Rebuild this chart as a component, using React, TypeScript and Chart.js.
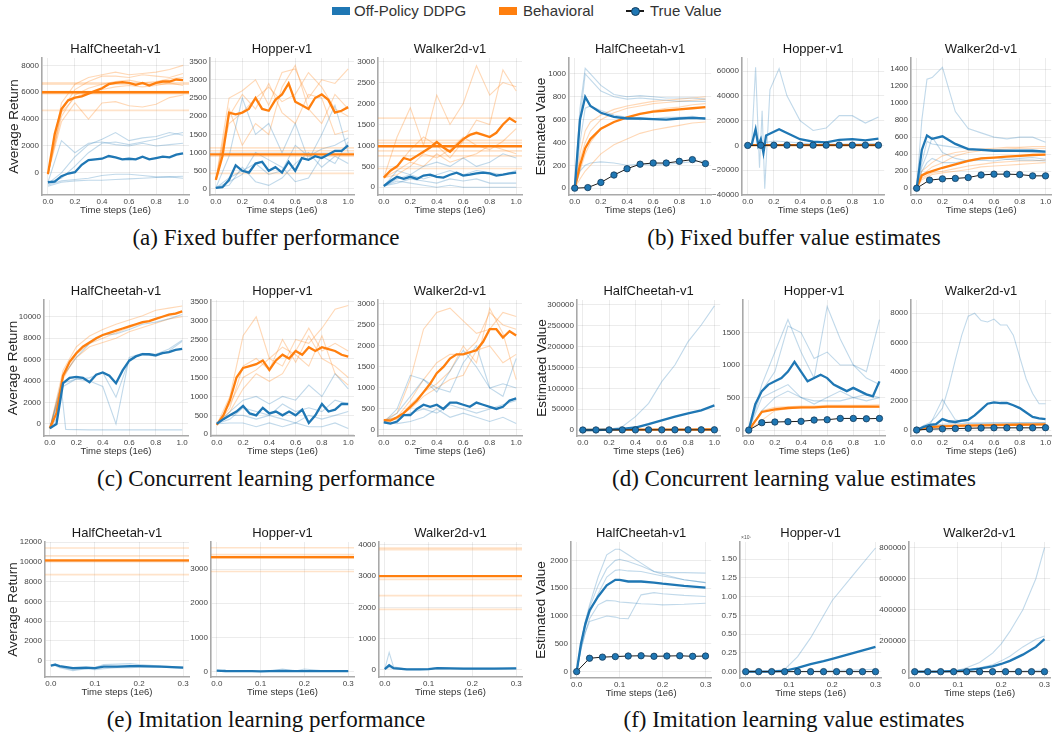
import React, { useEffect, useRef } from "react";
import { Chart, registerables } from "chart.js";

Chart.register(...registerables);

// ---------------- data ----------------
const ENVS = ["HalfCheetah-v1", "Hopper-v1", "Walker2d-v1"];
const X_TICKS_LONG = [0, 0.2, 0.4, 0.6, 0.8, 1.0];
const X_TICKS_SHORT = [0, 0.1, 0.2, 0.3];

const X21 = [0, 0.05, 0.1, 0.15, 0.2, 0.25, 0.3, 0.35, 0.4, 0.45, 0.5, 0.55, 0.6, 0.65, 0.7, 0.75, 0.8, 0.85, 0.9, 0.95, 1.0];
const X11 = [0, 0.1, 0.2, 0.3, 0.4, 0.5, 0.6, 0.7, 0.8, 0.9, 1.0];
const XV = [0, 0.04, 0.08, 0.12, 0.2, 0.3, 0.4, 0.5, 0.6, 0.7, 0.8, 0.9, 1.0];
const XB2M = [0, 0.03, 0.06, 0.08, 0.1, 0.12, 0.14, 0.2, 0.24, 0.3, 0.4, 0.5, 0.6, 0.7, 0.8, 0.9, 1.0];
const XB2R = [0, 0.03, 0.06, 0.09, 0.11, 0.13, 0.17, 0.24, 0.3, 0.4, 0.5, 0.6, 0.7, 0.8, 0.9, 1.0];
const XC1R = [0, 0.05, 0.09, 0.12, 0.3, 0.5, 0.7, 1.0];
const XE = [0, 0.01, 0.02, 0.05, 0.08, 0.1, 0.12, 0.15, 0.18, 0.2, 0.25, 0.3];
const XF = [0, 0.03, 0.06, 0.09, 0.12, 0.15, 0.18, 0.21, 0.24, 0.27, 0.3];
const XF1 = [0, 0.01, 0.02, 0.03, 0.05, 0.07, 0.09, 0.1, 0.12, 0.15, 0.18, 0.2, 0.25, 0.3];
const XF2 = [0, 0.05, 0.09, 0.12, 0.15, 0.18, 0.2, 0.25, 0.3];
const XF3 = [0, 0.05, 0.1, 0.12, 0.15, 0.18, 0.2, 0.22, 0.25, 0.28, 0.3];
const HX_LONG = [-0.1, 1.1];
const HX_SHORT = [-0.03, 0.33];

// (a) fixed buffer performance
const aHC_ddpg = [-700, -650, -250, -50, 50, 600, 950, 1000, 1050, 1250, 1150, 1000, 1050, 1000, 1200, 1000, 1100, 1200, 1150, 1350, 1450];
const aHC_ddpgRuns = [
  [-700, 2400, 1500, 2200, 2300, 2100, 2000, 2200, 2000, 2100, 2200],
  [-800, 0, 1200, 2100, 2500, 3000, 2400, 2600, 2700, 3000, 2800],
  [-900, -600, -500, -400, -200, -100, -100, -200, -300, -300, -400],
  [-1000, -700, -600, -550, -550, -500, -450, -400, -350, -300, -250],
  [-700, -400, 500, 1500, 2200, 2300, 2100, 2300, 2500, 2800, 3000],
];
const aHC_beh = [-100, 2900, 4750, 5400, 5600, 5700, 5900, 6100, 6300, 6600, 6700, 6750, 6700, 6550, 6700, 6500, 6700, 6800, 6800, 6950, 6900];
const aHC_behRuns = [
  [-100, 5200, 6600, 7100, 7300, 7500, 7300, 7400, 7500, 7700, 8000],
  [-100, 4600, 6200, 6800, 7200, 7200, 7100, 7300, 7200, 7100, 7400],
  [-100, 3800, 5200, 4000, 5200, 5300, 5000, 4900, 5100, 5600, 5800],
  [-100, 4200, 5800, 6300, 6600, 6800, 6900, 6700, 6800, 7000, 7100],
  [-100, 4500, 5600, 6000, 6200, 6400, 6500, 6400, 6500, 6700, 6500],
];
const aHC_behLevel = [6000];
const aHC_behLevels = [6700, 6600, 6050, 5900, 4650];

const aHop_ddpg = [30, 50, 250, 650, 500, 450, 700, 750, 500, 600, 450, 750, 500, 850, 800, 900, 850, 950, 1050, 1050, 1200];
const aHop_ddpgRuns = [
  [30, 900, 2500, 1500, 1800, 1000, 1800, 800, 1500, 2300, 1000],
  [30, 200, 400, 1000, 800, 600, 200, 300, 900, 700, 1300],
  [30, 100, 600, 200, 100, 300, 700, 1000, 600, 900, 700],
  [30, 300, 500, 700, 400, 500, 1200, 900, 1100, 1200, 1400],
];
const aHop_beh = [250, 900, 2100, 2050, 2100, 2200, 2500, 2200, 2150, 2450, 2600, 2900, 2400, 2300, 2200, 2500, 2600, 2450, 2100, 2150, 2250];
const aHop_behRuns = [
  [250, 2500, 2700, 3000, 2300, 3200, 3300, 2500, 3000, 2900, 3300],
  [250, 1800, 2100, 2500, 2800, 2400, 2600, 3200, 2800, 2200, 2000],
  [250, 2200, 1200, 1800, 1500, 2800, 3400, 2200, 1800, 2600, 2200],
  [250, 2000, 2600, 2200, 2900, 2100, 1800, 2600, 2500, 1500, 1600],
];
const aHop_behLevel = [950];
const aHop_behLevels = [1130, 1050, 900, 430];

const aWalk_ddpg = [30, 150, 250, 200, 250, 200, 280, 300, 250, 230, 300, 350, 280, 300, 330, 350, 330, 280, 300, 330, 350];
const aWalk_ddpgRuns = [
  [30, 400, 300, 500, 600, 500, 700, 500, 600, 800, 700],
  [30, 200, 300, 200, 300, 400, 300, 400, 350, 300, 400],
  [30, 100, 200, 150, 100, 200, 150, 200, 100, 100, 100],
  [30, 150, 100, 50, 0, 50, 0, 0, 0, 0, 0],
];
const aWalk_beh = [230, 400, 500, 700, 650, 750, 850, 950, 1080, 950, 850, 1000, 1150, 1250, 1300, 1250, 1200, 1300, 1500, 1650, 1550];
const aWalk_behRuns = [
  [230, 1200, 1900, 1000, 2200, 1500, 2000, 2900, 2200, 2500, 2400],
  [230, 500, 900, 1200, 1000, 700, 1100, 1600, 1500, 2800, 2300],
  [230, 300, 500, 800, 700, 900, 1200, 1000, 900, 1100, 1400],
  [230, 400, 600, 500, 800, 600, 700, 800, 1000, 900, 800],
];
const aWalk_behLevel = [980];
const aWalk_behLevels = [1650, 1120, 1060, 870, 750, 450];

// (b) fixed buffer value estimates
const bHC_ddpg = [0, 600, 800, 720, 660, 625, 610, 610, 605, 600, 610, 615, 610];
const bHC_ddpgRuns = [
  [0, 700, 1050, 1000, 900, 820, 800, 810, 800, 790, 790, 790, 780],
  [0, 600, 1000, 950, 850, 800, 780, 790, 780, 770, 760, 760, 760],
  [0, 400, 700, 720, 680, 640, 620, 600, 610, 620, 620, 630, 610],
  [0, 150, 200, 220, 230, 220, 200, 210, 200, 210, 220, 230, 240],
];
const bHC_beh = [0, 200, 350, 430, 520, 580, 620, 650, 670, 680, 690, 700, 710];
const bHC_behRuns = [
  [0, 300, 500, 580, 640, 690, 720, 740, 760, 770, 780, 790, 800],
  [0, 250, 400, 500, 600, 660, 700, 720, 740, 750, 760, 770, 780],
  [0, 150, 300, 400, 520, 580, 620, 650, 680, 700, 710, 730, 740],
  [0, 80, 150, 200, 300, 380, 430, 480, 510, 530, 550, 570, 580],
];
const bHC_true = [0, 5, 50, 115, 170, 210, 220, 220, 235, 250, 215];

const bHop_ddpg = [0, 500, 13000, 0, 5000, -6000, 8000, 11000, 13000, 10000, 5000, 3000, 2500, 4500, 5000, 4000, 5500];
const bHop_ddpgSpiky = [0, 1000, 63000, -18000, 28000, -35000, 45000, 62000, 40000, 20000, 12000, 14000, 24000, 24000, 18000, 23000];
const bHop_ddpgRuns = [
  [0, 0, 500, 2000, 3500, 3000, 2000, 1000, 800, 1000, 1000, 1500, 1500],
  [0, 0, 0, -500, 500, 300, 500, 500, 400, 500, 500, 500, 500],
];
const bHop_beh = [0, 200, 300, 300, 300, 300, 300, 300, 300, 300, 300, 300, 300];
const bHop_true = [0, 100, 150, 200, 200, 200, 200, 200, 200, 200, 200];

const bWalk_ddpg = [0, 450, 620, 580, 610, 520, 460, 450, 440, 440, 440, 440, 430];
const bWalk_ddpgRuns = [
  [0, 800, 1280, 1300, 1420, 900, 700, 650, 600, 580, 600, 600, 540],
  [0, 300, 550, 520, 500, 480, 470, 460, 450, 440, 430, 420, 420],
  [0, 250, 400, 600, 420, 350, 320, 330, 320, 340, 330, 330, 320],
  [0, 200, 300, 350, 300, 300, 330, 350, 360, 340, 350, 360, 340],
];
const bWalk_beh = [0, 150, 180, 200, 240, 280, 320, 350, 360, 370, 380, 390, 395];
const bWalk_behRuns = [
  [0, 200, 250, 300, 380, 420, 440, 460, 470, 480, 480, 490, 490],
  [0, 150, 200, 250, 300, 380, 420, 440, 450, 460, 470, 470, 470],
  [0, 120, 150, 180, 200, 230, 260, 280, 300, 310, 320, 320, 330],
  [0, 100, 130, 160, 180, 200, 220, 250, 260, 270, 280, 290, 300],
];
const bWalk_true = [0, 95, 110, 115, 125, 155, 165, 165, 160, 145, 145];

// (c) concurrent learning performance
const cHC_ddpg = [-400, 0, 3800, 4300, 4400, 4300, 3900, 4600, 4800, 4500, 3800, 5000, 5900, 6300, 6500, 6500, 6400, 6600, 6700, 6900, 7000];
const cHC_ddpgRuns = [
  [-400, 4500, 6200, 7500, 8300, 8400, 8800, 9300, 9500, 9800, 10200],
  [-400, 3500, 4200, 4000, 3500, 0, 6200, 6600, 6500, 7000, 7800],
  [-400, 3800, 4200, 4300, 4800, 2500, 6000, 6500, 6300, 6800, 7700],
];
const cHC_ddpgCollapse = [-400, 500, 3000, -500, -550, -550, -550, -550];
const cHC_beh = [-400, 1000, 4500, 5800, 6600, 7200, 7600, 8000, 8300, 8500, 8700, 8900, 9100, 9300, 9500, 9600, 9800, 10000, 10200, 10300, 10500];
const cHC_behRuns = [
  [-400, 5000, 7200, 8200, 8800, 9300, 9700, 10100, 10600, 10800, 11000],
  [-400, 4200, 6500, 7500, 8000, 8500, 9000, 9400, 9800, 10200, 10500],
  [-400, 4400, 6200, 7200, 7600, 8000, 8600, 9000, 9400, 9800, 10000],
];

const cHop_ddpg = [280, 400, 500, 600, 750, 550, 500, 700, 550, 600, 500, 600, 500, 650, 300, 500, 800, 600, 650, 800, 800];
const cHop_ddpgRuns = [
  [280, 600, 900, 1000, 800, 1000, 900, 1300, 1000, 1600, 1200],
  [280, 400, 700, 600, 500, 800, 600, 700, 600, 900, 800],
  [280, 500, 500, 400, 500, 400, 300, 500, 400, 500, 600],
  [280, 300, 300, 200, 300, 200, 300, 200, 200, 300, 150],
];
const cHop_beh = [250, 500, 900, 1500, 1750, 1800, 1850, 1950, 1700, 1950, 2100, 2000, 2200, 2100, 2300, 2200, 2300, 2250, 2200, 2100, 2050];
const cHop_behRuns = [
  [250, 1000, 2600, 3100, 2000, 1800, 2500, 2400, 2800, 3300, 3400],
  [250, 700, 1800, 2000, 1700, 2500, 1900, 2600, 2000, 1800, 1500],
  [250, 800, 1500, 1700, 2000, 2300, 2100, 1800, 2600, 1600, 1300],
  [250, 600, 1200, 1600, 1400, 1600, 2200, 2800, 2200, 2400, 2200],
];

const cWalk_ddpg = [180, 150, 200, 350, 350, 500, 600, 550, 600, 500, 650, 650, 600, 550, 650, 600, 550, 500, 550, 700, 750];
const cWalk_ddpgRuns = [
  [180, 500, 1300, 1200, 900, 1400, 1900, 1500, 1000, 800, 1700],
  [180, 400, 800, 1200, 1000, 900, 1600, 2000, 1000, 1100, 1000],
  [180, 300, 400, 500, 400, 600, 500, 400, 500, 600, 700],
  [180, 150, 200, 300, 500, 300, 400, 300, 200, 300, 150],
];
const cWalk_beh = [230, 220, 300, 400, 550, 700, 900, 1100, 1350, 1500, 1700, 1800, 1800, 1850, 1900, 2100, 2400, 2400, 2200, 2350, 2250];
const cWalk_behRuns = [
  [230, 400, 1200, 2400, 2800, 2900, 2600, 2300, 2400, 2800, 2700],
  [230, 300, 700, 1200, 1600, 1800, 1800, 2100, 2800, 2500, 2400],
  [230, 250, 600, 900, 1100, 1400, 2000, 1600, 2900, 2300, 1200],
  [230, 300, 500, 800, 1000, 1200, 1300, 1900, 2000, 1600, 1800],
];

// (d) concurrent learning value estimates
const dHC_ddpg = [0, 0, 1000, 2500, 6000, 14000, 23000, 32000, 40000, 47000, 59000];
const dHC_ddpgRuns = [
  [0, 0, 1500, 8000, 32000, 64000, 116000, 156000, 212000, 252000, 298000],
  [0, 0, 0, 0, 1000, 1000, 2000, 2000, 3000, 3000, 3000],
];
const dHC_beh = [0, 500, 800, 900, 1000, 1000, 1100, 1100, 1100, 1200, 1200];
const dHC_true = [0, 150, 250, 300, 350, 400, 400, 450, 450, 450, 450];

const dHop_ddpg = [0, 400, 600, 700, 750, 800, 900, 1050, 900, 750, 800, 850, 800, 700, 650, 600, 650, 600, 550, 520, 750];
const dHop_ddpgRuns = [
  [0, 700, 1200, 1700, 1200, 800, 1900, 1400, 1000, 900, 1700],
  [0, 600, 900, 1600, 1500, 1100, 1200, 1000, 1000, 800, 700],
  [0, 500, 600, 700, 500, 450, 450, 450, 500, 550, 500],
  [0, 300, 500, 600, 500, 400, 500, 600, 500, 450, 500],
];
const dHop_beh = [0, 280, 320, 340, 350, 350, 360, 360, 360, 360, 360];
const dHop_behRuns = [
  [0, 300, 350, 360, 370, 370, 380, 380, 380, 380, 390],
  [0, 150, 300, 330, 340, 350, 350, 350, 350, 350, 350],
];
const dHop_true = [0, 115, 125, 130, 135, 155, 160, 180, 180, 175, 180];

const dWalk_ddpg = [0, 200, 350, 400, 750, 600, 550, 650, 700, 1000, 1400, 1800, 1900, 1850, 1850, 1700, 1500, 1200, 900, 800, 750];
const dWalk_ddpgBig = [0, 300, 500, 900, 1500, 3000, 4800, 6500, 7800, 8000, 7500, 7400, 7600, 7200, 7200, 6500, 5000, 3500, 2500, 1800, 1800];
const dWalk_ddpgRuns = [
  [0, 300, 2100, 700, 500, 500, 500, 500, 500, 500, 500],
  [0, 300, 400, 450, 450, 450, 480, 480, 490, 500, 500],
];
const dWalk_beh = [0, 200, 250, 280, 300, 320, 340, 350, 360, 370, 380];
const dWalk_behRuns = [[0, 250, 320, 350, 380, 400, 420, 430, 440, 450, 460]];
const dWalk_true = [0, 60, 80, 100, 120, 140, 150, 150, 150, 150, 160];

// (e) imitation learning performance
const eHC_ddpg = [-500, -400, -550, -750, -700, -750, -600, -600, -550, -550, -600, -700];
const eHC_ddpgRuns = [
  [-500, -300, -600, -900, -800, -700, -400, -350, -300, -400, -550, -650],
  [-500, -500, -700, -1000, -800, -900, -800, -700, -700, -650, -650, -750],
];
const eHC_behLevel = [10150];
const eHC_behLevels = [11400, 10600, 10000, 8700];

const eHop_ddpg = [30, 25, 20, 15, 15, 10, 15, 25, 15, 15, 15, 15];
const eHop_ddpgRuns = [
  [30, 40, 20, 10, 10, 10, 20, 80, 20, 80, 20, 10],
  [30, 20, 10, 5, 10, 5, 10, 20, 10, 30, 15, 20],
];
const eHop_behLevel = [3350];
const eHop_behLevels = [3620, 3420, 3320, 2930];

const eWalk_ddpg = [30, 150, 60, 20, 20, 25, 60, 50, 40, 40, 40, 50];
const eWalk_ddpgRuns = [
  [30, 560, 100, 30, 20, 30, 80, 60, 50, 50, 50, 60],
  [30, 80, 40, 20, 30, 20, 50, 40, 30, 30, 40, 50],
];
const eWalk_behLevel = [3000];
const eWalk_behLevels = [3900, 3850, 2900, 2380, 1940];

// (f) imitation learning value estimates
const fHC_ddpg = [0, 500, 850, 1100, 1350, 1550, 1650, 1650, 1620, 1620, 1600, 1580, 1540, 1510];
const fHC_ddpgRuns = [
  [0, 500, 900, 1200, 1700, 2100, 2200, 2200, 2100, 1950, 1800, 1780, 1780, 1770],
  [0, 500, 900, 1150, 1550, 1850, 2000, 2020, 1980, 1900, 1800, 1750, 1650, 1600],
  [0, 450, 800, 1050, 1400, 1700, 1820, 1830, 1810, 1800, 1750, 1720, 1650, 1600],
  [0, 400, 700, 950, 1200, 1280, 1270, 1250, 1240, 1220, 1210, 1200, 1210, 1230],
  [0, 400, 700, 900, 950, 1000, 980, 960, 950, 1380, 1420, 1400, 1370, 1350],
];
const fHC_true = [0, 240, 260, 270, 280, 285, 275, 280, 285, 275, 280];

const fHop_ddpg = [0, 0, 100000, 500000, 1000000, 1400000, 1700000, 2500000, 3300000];
const fHop_ddpgRuns = [
  [0, 0, 300000, 2000000, 4500000, 7500000, 9500000, 13000000, 16500000],
  [0, 0, 0, 0, 50000, 100000, 150000, 200000, 300000],
];
const fHop_true = [0, 200, 300, 300, 300, 300, 300, 300, 300, 300, 300];

const fWalk_ddpg = [0, 0, 5000, 10000, 20000, 35000, 50000, 70000, 110000, 160000, 210000];
const fWalk_ddpgRuns = [
  [0, 0, 10000, 25000, 60000, 120000, 180000, 260000, 400000, 600000, 800000],
  [0, 0, 5000, 10000, 25000, 45000, 70000, 100000, 160000, 210000, 230000],
  [0, 0, 0, 0, 0, 0, 1000, 2000, 5000, 8000, 10000],
];
const fWalk_true = [0, 200, 300, 300, 300, 300, 300, 300, 300, 300, 300];

// y-axis ticks
const Y_A1 = [0, 2000, 4000, 6000, 8000];
const Y_A2 = [0, 500, 1000, 1500, 2000, 2500, 3000, 3500];
const Y_A3 = [0, 500, 1000, 1500, 2000, 2500, 3000];
const Y_B1 = [0, 200, 400, 600, 800, 1000];
const Y_B2 = [-40000, -20000, 0, 20000, 40000, 60000];
const Y_B3 = [0, 200, 400, 600, 800, 1000, 1200, 1400];
const Y_C1 = [0, 2000, 4000, 6000, 8000, 10000];
const Y_C2 = [0, 500, 1000, 1500, 2000, 2500, 3000, 3500];
const Y_C3 = [0, 500, 1000, 1500, 2000, 2500, 3000];
const Y_D1 = [0, 50000, 100000, 150000, 200000, 250000, 300000];
const Y_D2 = [0, 500, 1000, 1500];
const Y_D3 = [0, 2000, 4000, 6000, 8000];
const Y_E1 = [0, 2000, 4000, 6000, 8000, 10000, 12000];
const Y_E2 = [0, 1000, 2000, 3000];
const Y_E3 = [0, 1000, 2000, 3000, 4000];
const Y_F1 = [0, 500, 1000, 1500, 2000];
const Y_F2 = [0, 2500000, 5000000, 7500000, 10000000, 12500000, 15000000];
const Y_F3 = [0, 200000, 400000, 600000, 800000];

// ---------------- builders ----------------
type Role = "ddpgRun" | "behRun" | "behLevel" | "ddpgMean" | "behMean" | "trueVal";
type Series = { role: Role; x: number[]; y: number[] };
const runs = (role: Role, x: number[], ys: number[][]): Series[] => ys.map((y) => ({ role, x, y }));
const one = (role: Role, x: number[], y: number[]): Series => ({ role, x, y });
const levels = (role: Role, x: number[], vals: number[]): Series[] => vals.map((v) => ({ role, x, y: x.map(() => v) }));

type Spec = {
  title: string;
  yLabel?: string;
  span: number;
  yMin: number;
  yMax: number;
  yTicks: number[];
  sci?: boolean;
  series: Series[];
};

const PERF = "Average Return";
const VAL = "Estimated Value";

const SPECS: Spec[] = [
  { title: ENVS[0], yLabel: PERF, span: 1, yMin: -1650, yMax: 8550, yTicks: Y_A1, series: [
    ...runs("ddpgRun", X11, aHC_ddpgRuns), ...runs("behRun", X11, aHC_behRuns), ...levels("behLevel", HX_LONG, aHC_behLevels),
    ...levels("behMean", HX_LONG, aHC_behLevel), one("behMean", X21, aHC_beh), one("ddpgMean", X21, aHC_ddpg)] },
  { title: ENVS[1], span: 1, yMin: -165, yMax: 3600, yTicks: Y_A2, series: [
    ...runs("ddpgRun", X11, aHop_ddpgRuns), ...runs("behRun", X11, aHop_behRuns), ...levels("behLevel", HX_LONG, aHop_behLevels),
    ...levels("behMean", HX_LONG, aHop_behLevel), one("behMean", X21, aHop_beh), one("ddpgMean", X21, aHop_ddpg)] },
  { title: ENVS[2], span: 1, yMin: -184, yMax: 3086, yTicks: Y_A3, series: [
    ...runs("ddpgRun", X11, aWalk_ddpgRuns), ...runs("behRun", X11, aWalk_behRuns), ...levels("behLevel", HX_LONG, aWalk_behLevels),
    ...levels("behMean", HX_LONG, aWalk_behLevel), one("behMean", X21, aWalk_beh), one("ddpgMean", X21, aWalk_ddpg)] },
  { title: ENVS[0], yLabel: VAL, span: 1, yMin: -60, yMax: 1140, yTicks: Y_B1, series: [
    ...runs("ddpgRun", XV, bHC_ddpgRuns), ...runs("behRun", XV, bHC_behRuns), one("behMean", XV, bHC_beh),
    one("ddpgMean", XV, bHC_ddpg), one("trueVal", X11, bHC_true)] },
  { title: ENVS[1], span: 1, yMin: -40000, yMax: 70500, yTicks: Y_B2, series: [
    one("ddpgRun", XB2R, bHop_ddpgSpiky), ...runs("ddpgRun", XV, bHop_ddpgRuns), one("behMean", XV, bHop_beh),
    one("ddpgMean", XB2M, bHop_ddpg), one("trueVal", X11, bHop_true)] },
  { title: ENVS[2], span: 1, yMin: -80, yMax: 1530, yTicks: Y_B3, series: [
    ...runs("ddpgRun", XV, bWalk_ddpgRuns), ...runs("behRun", XV, bWalk_behRuns), one("behMean", XV, bWalk_beh),
    one("ddpgMean", XV, bWalk_ddpg), one("trueVal", X11, bWalk_true)] },
  { title: ENVS[0], yLabel: PERF, span: 1, yMin: -1120, yMax: 11560, yTicks: Y_C1, series: [
    ...runs("ddpgRun", X11, cHC_ddpgRuns), one("ddpgRun", XC1R, cHC_ddpgCollapse), ...runs("behRun", X11, cHC_behRuns),
    one("behMean", X21, cHC_beh), one("ddpgMean", X21, cHC_ddpg)] },
  { title: ENVS[1], span: 1, yMin: -45, yMax: 3545, yTicks: Y_C2, series: [
    ...runs("ddpgRun", X11, cHop_ddpgRuns), ...runs("behRun", X11, cHop_behRuns),
    one("behMean", X21, cHop_beh), one("ddpgMean", X21, cHop_ddpg)] },
  { title: ENVS[2], span: 1, yMin: -145, yMax: 3095, yTicks: Y_C3, series: [
    ...runs("ddpgRun", X11, cWalk_ddpgRuns), ...runs("behRun", X11, cWalk_behRuns),
    one("behMean", X21, cWalk_beh), one("ddpgMean", X21, cWalk_ddpg)] },
  { title: ENVS[0], yLabel: VAL, span: 1, yMin: -14400, yMax: 312000, yTicks: Y_D1, series: [
    ...runs("ddpgRun", X11, dHC_ddpgRuns), one("behMean", X11, dHC_beh), one("ddpgMean", X11, dHC_ddpg), one("trueVal", X11, dHC_true)] },
  { title: ENVS[1], span: 1, yMin: -90, yMax: 2000, yTicks: Y_D2, series: [
    ...runs("ddpgRun", X11, dHop_ddpgRuns), ...runs("behRun", X11, dHop_behRuns), one("behMean", X11, dHop_beh),
    one("ddpgMean", X21, dHop_ddpg), one("trueVal", X11, dHop_true)] },
  { title: ENVS[2], span: 1, yMin: -410, yMax: 8910, yTicks: Y_D3, series: [
    one("ddpgRun", X21, dWalk_ddpgBig), ...runs("ddpgRun", X11, dWalk_ddpgRuns), ...runs("behRun", X11, dWalk_behRuns),
    one("behMean", X11, dWalk_beh), one("ddpgMean", X21, dWalk_ddpg), one("trueVal", X11, dWalk_true)] },
  { title: ENVS[0], yLabel: PERF, span: 0.3, yMin: -1650, yMax: 12000, yTicks: Y_E1, series: [
    ...runs("ddpgRun", XE, eHC_ddpgRuns), ...levels("behLevel", HX_SHORT, eHC_behLevels), ...levels("behMean", HX_SHORT, eHC_behLevel),
    one("ddpgMean", XE, eHC_ddpg)] },
  { title: ENVS[1], span: 0.3, yMin: -155, yMax: 3790, yTicks: Y_E2, series: [
    ...runs("ddpgRun", XE, eHop_ddpgRuns), ...levels("behLevel", HX_SHORT, eHop_behLevels), ...levels("behMean", HX_SHORT, eHop_behLevel),
    one("ddpgMean", XE, eHop_ddpg)] },
  { title: ENVS[2], span: 0.3, yMin: -225, yMax: 4095, yTicks: Y_E3, series: [
    ...runs("ddpgRun", XE, eWalk_ddpgRuns), ...levels("behLevel", HX_SHORT, eWalk_behLevels), ...levels("behMean", HX_SHORT, eWalk_behLevel),
    one("ddpgMean", XE, eWalk_ddpg)] },
  { title: ENVS[0], yLabel: VAL, span: 0.3, yMin: -115, yMax: 2330, yTicks: Y_F1, series: [
    ...runs("ddpgRun", XF1, fHC_ddpgRuns), one("ddpgMean", XF1, fHC_ddpg), one("trueVal", XF, fHC_true)] },
  { title: ENVS[1], span: 0.3, yMin: -850000, yMax: 17300000, yTicks: Y_F2, sci: true, series: [
    ...runs("ddpgRun", XF2, fHop_ddpgRuns), one("ddpgMean", XF2, fHop_ddpg), one("trueVal", XF, fHop_true)] },
  { title: ENVS[2], span: 0.3, yMin: -40600, yMax: 837000, yTicks: Y_F3, series: [
    ...runs("ddpgRun", XF3, fWalk_ddpgRuns), one("ddpgMean", XF3, fWalk_ddpg), one("trueVal", XF, fWalk_true)] },
];

// ---------------- layout & styles ----------------
type Box = { x: number; w: number; top: number; h: number; labelX?: number };
const BOXES: Box[] = [
  { x: 42, w: 147, top: 58, h: 137, labelX: 14 },
  { x: 210, w: 144, top: 58, h: 137 },
  { x: 378, w: 144, top: 58, h: 137 },
  { x: 569, w: 143, top: 58, h: 137, labelX: 541 },
  { x: 742, w: 143, top: 58, h: 137 },
  { x: 911, w: 141, top: 58, h: 137 },
  { x: 44, w: 144, top: 300, h: 136, labelX: 13 },
  { x: 211, w: 143, top: 300, h: 136 },
  { x: 378, w: 144, top: 300, h: 136 },
  { x: 577, w: 144, top: 300, h: 136, labelX: 542 },
  { x: 743, w: 143, top: 300, h: 136 },
  { x: 911, w: 141, top: 300, h: 136 },
  { x: 45, w: 144, top: 542, h: 135, labelX: 13 },
  { x: 211, w: 143, top: 542, h: 135 },
  { x: 379, w: 143, top: 542, h: 135 },
  { x: 571, w: 141, top: 542, h: 136, labelX: 541 },
  { x: 740, w: 142, top: 542, h: 136 },
  { x: 909, w: 142, top: 542, h: 136 },
];

const CAPTIONS = [
  { text: "(a) Fixed buffer performance", cx: 266, cy: 238 },
  { text: "(b) Fixed buffer value estimates", cx: 794, cy: 238 },
  { text: "(c) Concurrent learning performance", cx: 266, cy: 479 },
  { text: "(d) Concurrent learning value estimates", cx: 794, cy: 479 },
  { text: "(e) Imitation learning performance", cx: 266, cy: 720 },
  { text: "(f) Imitation learning value estimates", cx: 794, cy: 720 },
];

const SANS = "'Liberation Sans', Arial, sans-serif";
const SERIF = "'Liberation Serif', 'Times New Roman', serif";
const BLUE = "#1f77b4";
const ORANGE = "#ff7f0e";
const GRID = "rgba(0,0,0,0.075)";
const SPINE = "#a9a9a9";
const TITLE_H = 17;
const X_H = 21;
const PAD_R = 4;
const YLABEL_LH = 16;

const STYLE: Record<Role, any> = {
  ddpgRun: { borderColor: "rgba(31,119,180,0.28)", borderWidth: 1.1, order: 6 },
  behRun: { borderColor: "rgba(255,127,14,0.3)", borderWidth: 1.1, order: 6 },
  behLevel: { borderColor: "rgba(255,127,14,0.22)", borderWidth: 1.6, order: 5 },
  behMean: { borderColor: ORANGE, borderWidth: 2.3, order: 3 },
  ddpgMean: { borderColor: BLUE, borderWidth: 2.3, order: 2 },
  trueVal: {
    borderColor: "#1c1c1c", borderWidth: 1, order: 0, pointRadius: 3.2,
    pointBackgroundColor: BLUE, pointBorderColor: "#123a5a", pointBorderWidth: 0.8,
  },
};

const fmtNum = (v: number) => (v < 0 ? "\u2212" + Math.abs(v) : String(v));

function Panel({ spec, box }: { spec: Spec; box: Box }) {
  const ref = useRef<HTMLCanvasElement | null>(null);
  const cl = box.labelX !== undefined ? Math.round(box.labelX - YLABEL_LH / 2) : box.x - 40;
  const yw = box.x - cl;
  const W = yw + box.w + PAD_R;
  const H = TITLE_H + box.h + X_H;

  useEffect(() => {
    if (!ref.current) return;
    const xt = spec.span === 1 ? X_TICKS_LONG : X_TICKS_SHORT;
    const datasets = spec.series.map((s) => ({
      data: s.x.map((x, i) => ({ x, y: s.y[i] })),
      pointRadius: 0,
      fill: false,
      tension: 0,
      ...STYLE[s.role],
    }));
    const chart = new Chart(ref.current, {
      type: "line",
      data: { datasets },
      options: {
        animation: false,
        responsive: false,
        devicePixelRatio: 1,
        layout: { padding: { left: 0, right: PAD_R, top: 0, bottom: 0 } },
        plugins: {
          legend: { display: false },
          tooltip: { enabled: false },
          title: {
            display: true,
            text: spec.title,
            fullSize: false,
            color: "#1a1a1a",
            font: { family: SANS, size: 13, weight: "normal", lineHeight: "16px" },
            padding: { top: 0, bottom: 1 },
          },
        },
        scales: {
          x: {
            type: "linear",
            min: -0.044 * spec.span,
            max: 1.044 * spec.span,
            afterFit: (s: any) => { s.height = X_H; },
            afterBuildTicks: (s: any) => { s.ticks = xt.map((v) => ({ value: v })); },
            grid: { color: GRID, drawTicks: false },
            border: { color: SPINE, width: 1.6 },
            ticks: {
              padding: 2, autoSkip: false, maxRotation: 0, color: "#444",
              font: { family: SANS, size: 8 },
              callback: (v: any) => Number(v).toFixed(1),
            },
            title: {
              display: true, text: "Time steps (1e6)", color: "#333",
              font: { family: SANS, size: 9.5, lineHeight: "11px" },
              padding: { top: 0, bottom: 0 },
            },
          },
          y: {
            type: "linear",
            min: spec.yMin,
            max: spec.yMax,
            afterFit: (s: any) => { s.width = yw; },
            afterBuildTicks: (s: any) => { s.ticks = spec.yTicks.map((v) => ({ value: v })); },
            grid: { color: GRID, drawTicks: false },
            border: { color: SPINE, width: 1.6 },
            ticks: {
              padding: 3, autoSkip: false, color: "#444",
              font: { family: SANS, size: 8 },
              callback: (v: any) => (spec.sci ? (Number(v) / 1e7).toFixed(2) : fmtNum(Number(v))),
            },
            title: {
              display: !!spec.yLabel, text: spec.yLabel || "", color: "#222",
              font: { family: SANS, size: 13.5, lineHeight: YLABEL_LH + "px" },
              padding: { top: 0, bottom: 0 },
            },
          },
        },
      } as any,
    });
    return () => chart.destroy();
  }, []);

  return (
    <canvas
      ref={ref}
      width={W}
      height={H}
      style={{ position: "absolute", left: cl, top: box.top - TITLE_H, width: W, height: H }}
    />
  );
}

export default function App() {
  const legendText = { position: "absolute" as const, top: 2, font: `15px ${SANS}`, lineHeight: "18px", color: "#333", whiteSpace: "nowrap" as const };
  return (
    <div style={{ position: "absolute", left: 0, top: 0, width: 1058, height: 736, background: "#fff", overflow: "hidden" }}>
      {/* legend */}
      <div style={{ position: "absolute", left: 332, top: 7, width: 18, height: 8, background: BLUE }} />
      <span style={{ ...legendText, left: 354 }}>Off-Policy DDPG</span>
      <div style={{ position: "absolute", left: 499, top: 7, width: 18, height: 8, background: ORANGE }} />
      <span style={{ ...legendText, left: 523 }}>Behavioral</span>
      <div style={{ position: "absolute", left: 626, top: 10, width: 18, height: 1.5, background: "#1c1c1c" }} />
      <div style={{ position: "absolute", left: 631, top: 7, width: 7, height: 7, borderRadius: "50%", background: BLUE, border: "0.8px solid #123a5a" }} />
      <span style={{ ...legendText, left: 650 }}>True Value</span>

      {SPECS.map((s, i) => (
        <Panel key={i} spec={s} box={BOXES[i]} />
      ))}

      <span style={{ position: "absolute", left: 741, top: 534, font: `5px ${SANS}`, color: "#555" }}>×10⁷</span>

      {CAPTIONS.map((c, i) => (
        <div key={i} style={{ position: "absolute", left: c.cx - 260, top: c.cy - 14, width: 520, textAlign: "center", font: `23px ${SERIF}`, lineHeight: "28px", color: "#111" }}>
          {c.text}
        </div>
      ))}
    </div>
  );
}
